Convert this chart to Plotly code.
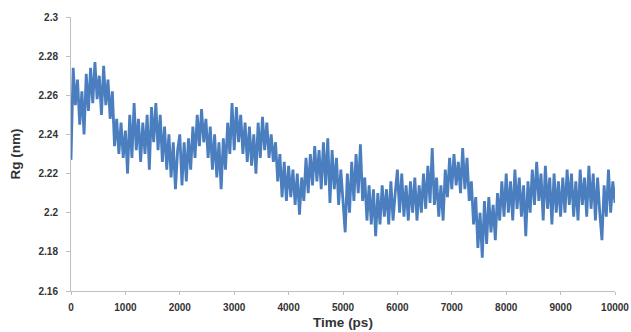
import plotly.graph_objects as go

time_ps = list(range(0, 10001, 40))

rg_nm = [
    # 0-960
    2.227, 2.274, 2.255, 2.268, 2.245, 2.262, 2.240, 2.271, 2.252, 2.274,
    2.256, 2.277, 2.258, 2.270, 2.250, 2.275, 2.255, 2.268, 2.248, 2.262,
    2.234, 2.248, 2.230, 2.246, 2.228,
    # 1000-1960
    2.242, 2.220, 2.250, 2.228, 2.256, 2.232, 2.248, 2.226, 2.246, 2.230,
    2.250, 2.222, 2.254, 2.236, 2.256, 2.232, 2.250, 2.226, 2.244, 2.222,
    2.240, 2.218, 2.236, 2.212, 2.232,
    # 2000-2960
    2.240, 2.214, 2.236, 2.216, 2.238, 2.222, 2.244, 2.228, 2.250, 2.234,
    2.253, 2.236, 2.248, 2.228, 2.244, 2.222, 2.240, 2.218, 2.236, 2.212,
    2.238, 2.222, 2.246, 2.230, 2.256,
    # 3000-3960
    2.232, 2.254, 2.236, 2.250, 2.230, 2.246, 2.226, 2.244, 2.224, 2.240,
    2.220, 2.246, 2.228, 2.249, 2.232, 2.246, 2.228, 2.240, 2.226, 2.236,
    2.216, 2.230, 2.208, 2.226, 2.206,
    # 4000-4960
    2.224, 2.208, 2.222, 2.204, 2.220, 2.199, 2.218, 2.206, 2.228, 2.210,
    2.230, 2.214, 2.234, 2.216, 2.232, 2.212, 2.236, 2.214, 2.238, 2.205,
    2.232, 2.212, 2.228, 2.204, 2.222,
    # 5000-5960
    2.206, 2.190, 2.220, 2.200, 2.226, 2.206, 2.230, 2.210, 2.235, 2.206,
    2.218, 2.196, 2.214, 2.194, 2.212, 2.188, 2.210, 2.194, 2.214, 2.198,
    2.212, 2.194, 2.216, 2.196, 2.210,
    # 6000-6960
    2.222, 2.200, 2.220, 2.198, 2.214, 2.196, 2.216, 2.200, 2.218, 2.196,
    2.214, 2.200, 2.220, 2.202, 2.224, 2.205, 2.233, 2.204, 2.218, 2.198,
    2.214, 2.196, 2.222, 2.208, 2.228,
    # 7000-7960
    2.212, 2.230, 2.214, 2.226, 2.210, 2.233, 2.212, 2.228, 2.206, 2.216,
    2.194, 2.208, 2.182, 2.200, 2.177, 2.206, 2.184, 2.208, 2.190, 2.204,
    2.186, 2.210, 2.196, 2.216, 2.198,
    # 8000-8960
    2.220, 2.200, 2.216, 2.196, 2.222, 2.202, 2.218, 2.198, 2.214, 2.188,
    2.216, 2.200, 2.222, 2.204, 2.226, 2.206, 2.220, 2.196, 2.224, 2.202,
    2.218, 2.194, 2.220, 2.200, 2.216,
    # 9000-10000
    2.198, 2.218, 2.200, 2.222, 2.204, 2.220, 2.198, 2.216, 2.196, 2.222,
    2.204, 2.218, 2.198, 2.224, 2.202, 2.220, 2.196, 2.218, 2.200, 2.186,
    2.214, 2.198, 2.222, 2.200, 2.216, 2.205,
]

x_ticks = list(range(0, 10001, 1000))
x_tick_labels = [str(v) for v in x_ticks]
y_ticks = [2.16, 2.18, 2.2, 2.22, 2.24, 2.26, 2.28, 2.3]
y_tick_labels = ["2.16", "2.18", "2.2", "2.22", "2.24", "2.26", "2.28", "2.3"]

fig = go.Figure()
fig.add_trace(go.Scatter(
    x=time_ps, y=rg_nm, mode="lines",
    line=dict(color="#4A7EBF", width=2.8),
    showlegend=False,
))

tick_font = dict(family="Liberation Sans", size=10, color="#333333", weight="bold")
title_font = dict(family="Liberation Sans", size=13.5, color="#333333", weight="bold")
fig.update_layout(
    width=631, height=332,
    margin=dict(l=71, r=16, t=17, b=41),
    paper_bgcolor="white", plot_bgcolor="white",
    xaxis=dict(
        range=[0, 10000], tickvals=x_ticks, ticktext=x_tick_labels,
        showgrid=False, zeroline=False, showline=True, linecolor="#BFBFBF", linewidth=1,
        ticks="outside", ticklen=3, tickcolor="#BFBFBF",
        tickfont=tick_font, automargin=False, ticklabelstandoff=4,
        title=dict(text="Time (ps)", font=title_font, standoff=5),
    ),
    yaxis=dict(
        range=[2.16, 2.3], tickvals=y_ticks, ticktext=y_tick_labels,
        showgrid=False, zeroline=False, showline=True, linecolor="#BFBFBF", linewidth=1,
        ticks="outside", ticklen=4, tickcolor="#BFBFBF",
        tickfont=tick_font, automargin=False, ticklabelstandoff=6,
        title=dict(text="Rg (nm)", font=title_font, standoff=14),
    ),
)

fig.write_html(
    "out.html",
    config={"displayModeBar": False},
    post_script="document.body.style.margin='0';document.body.style.overflow='hidden';",
)
